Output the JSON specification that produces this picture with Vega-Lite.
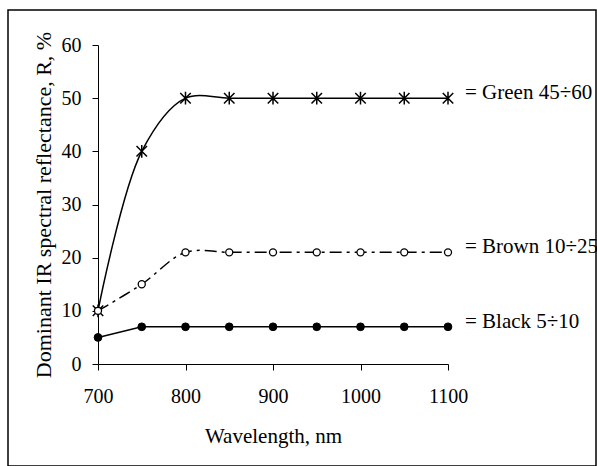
{
  "$schema": "https://vega.github.io/schema/vega-lite/v6.json",
  "width": 588,
  "height": 456,
  "autosize": "none",
  "padding": {"left": 8, "top": 10, "right": 1, "bottom": 0},
  "background": "white",
  "config": {
    "view": {"stroke": "#000", "strokeWidth": 1.5},
    "font": "Liberation Serif",
    "axis": {"grid": false, "domainColor": "#000", "tickColor": "#000", "labelColor": "#000", "titleColor": "#000", "labelFont": "Liberation Serif", "titleFont": "Liberation Serif", "titleFontWeight": "normal", "tickSize": 6, "domainWidth": 1, "tickWidth": 1, "labelFlush": false}
  },
  "datasets": {
    "pts": [
      {"series": "Green", "wl": 700, "r": 10},
      {"series": "Green", "wl": 750, "r": 40},
      {"series": "Green", "wl": 800, "r": 50},
      {"series": "Green", "wl": 850, "r": 50},
      {"series": "Green", "wl": 900, "r": 50},
      {"series": "Green", "wl": 950, "r": 50},
      {"series": "Green", "wl": 1000, "r": 50},
      {"series": "Green", "wl": 1050, "r": 50},
      {"series": "Green", "wl": 1100, "r": 50},
      {"series": "Brown", "wl": 700, "r": 10},
      {"series": "Brown", "wl": 750, "r": 15},
      {"series": "Brown", "wl": 800, "r": 21},
      {"series": "Brown", "wl": 850, "r": 21},
      {"series": "Brown", "wl": 900, "r": 21},
      {"series": "Brown", "wl": 950, "r": 21},
      {"series": "Brown", "wl": 1000, "r": 21},
      {"series": "Brown", "wl": 1050, "r": 21},
      {"series": "Brown", "wl": 1100, "r": 21},
      {"series": "Black", "wl": 700, "r": 5},
      {"series": "Black", "wl": 750, "r": 7},
      {"series": "Black", "wl": 800, "r": 7},
      {"series": "Black", "wl": 850, "r": 7},
      {"series": "Black", "wl": 900, "r": 7},
      {"series": "Black", "wl": 950, "r": 7},
      {"series": "Black", "wl": 1000, "r": 7},
      {"series": "Black", "wl": 1050, "r": 7},
      {"series": "Black", "wl": 1100, "r": 7}
    ],
    "labels": [
      {"series": "Green", "wl": 1100, "r": 50, "label": "= Green 45÷60"},
      {"series": "Brown", "wl": 1100, "r": 21, "label": "= Brown 10÷25"},
      {"series": "Black", "wl": 1100, "r": 7, "label": "= Black 5÷10"}
    ]
  },
  "encoding": {
    "x": {
      "field": "wl", "type": "quantitative",
      "scale": {"domain": [700, 1100], "range": [90, 440], "nice": false, "zero": false},
      "axis": {"values": [700, 800, 900, 1000, 1100], "format": "d", "offset": -102, "labelFontSize": 20, "labelPadding": 16, "labelFlush": false, "title": "Wavelength, nm", "titleFontSize": 21, "titleBaseline": "alphabetic", "titleY": 78}
    },
    "y": {
      "field": "r", "type": "quantitative",
      "scale": {"domain": [0, 60], "range": [354, 35], "nice": false, "zero": true},
      "axis": {"values": [0, 10, 20, 30, 40, 50, 60], "format": "d", "offset": -90, "labelFontSize": 20, "labelPadding": 11, "labelFlush": false, "title": "Dominant IR spectral reflectance, R, %", "titleFontSize": 22, "titleBaseline": "alphabetic", "titleX": -48}
    }
  },
  "layer": [
    {
      "data": {"name": "pts"},
      "transform": [{"filter": "datum.series === 'Green'"}],
      "mark": {"type": "line", "interpolate": "catmull-rom", "stroke": "#000", "strokeWidth": 1.5}
    },
    {
      "data": {"name": "pts"},
      "transform": [{"filter": "datum.series === 'Brown'"}],
      "mark": {"type": "line", "interpolate": "catmull-rom", "stroke": "#000", "strokeWidth": 1.5, "strokeDash": [12, 5, 3, 5]}
    },
    {
      "data": {"name": "pts"},
      "transform": [{"filter": "datum.series === 'Black'"}],
      "mark": {"type": "line", "stroke": "#000", "strokeWidth": 1.5}
    },
    {
      "data": {"name": "pts"},
      "transform": [{"filter": "datum.series === 'Green'"}],
      "mark": {"type": "point", "shape": "M-1,-1L1,1M-1,1L1,-1M0,-1.2L0,1.2", "filled": false, "stroke": "#000", "strokeWidth": 1.5, "size": 110, "opacity": 1}
    },
    {
      "data": {"name": "pts"},
      "transform": [{"filter": "datum.series === 'Brown'"}],
      "mark": {"type": "point", "shape": "circle", "filled": true, "fill": "white", "stroke": "#000", "strokeWidth": 1.3, "size": 50, "opacity": 1}
    },
    {
      "data": {"name": "pts"},
      "transform": [{"filter": "datum.series === 'Black'"}],
      "mark": {"type": "point", "shape": "circle", "filled": true, "fill": "#000", "stroke": "#000", "strokeWidth": 1, "size": 60, "opacity": 1}
    },
    {
      "data": {"name": "labels"},
      "mark": {"type": "text", "align": "left", "baseline": "middle", "dx": 17, "dy": -5, "fontSize": 21, "font": "Liberation Serif", "color": "#000"},
      "encoding": {"text": {"field": "label"}}
    }
  ]
}
